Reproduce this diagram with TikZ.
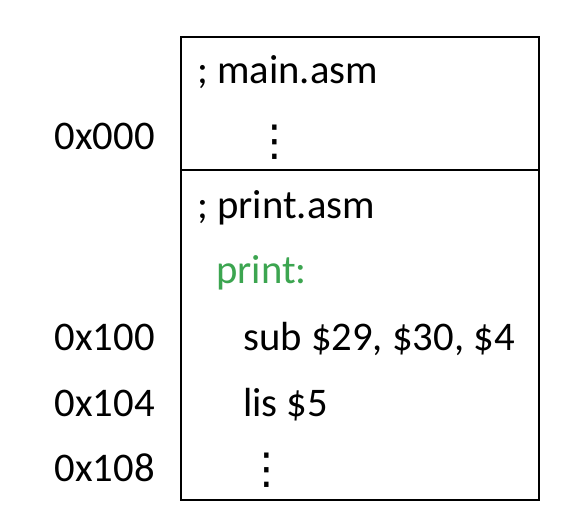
\documentclass[tikz,border=0pt]{standalone}
\usepackage{fontspec}
\setmainfont{Carlito}
\newfontfamily\dejavu{DejaVu Sans}
\definecolor{labelgreen}{RGB}{60,165,80}
\begin{document}
\begin{tikzpicture}[x=0.75pt,y=-0.75pt,
  txt/.style={anchor=base west,inner sep=0pt,font=\fontsize{30.5}{36}\selectfont},
  addr/.style={anchor=base east,inner sep=0pt,font=\fontsize{30.5}{36}\selectfont},
  vdot/.style={anchor=center,inner sep=0pt,font=\dejavu\fontsize{32}{36}\selectfont},
  frame/.style={draw=black,line width=1.2pt}]
\useasboundingbox (0,0) rectangle (574,520);
\node[frame,minimum width=358*0.75pt,minimum height=133*0.75pt,anchor=north west,inner sep=0pt] (top) at (180,36) {};
\node[frame,minimum width=358*0.75pt,minimum height=330*0.75pt,anchor=north west,inner sep=0pt] (bot) at (180,169) {};
\node[txt] (main) at (197,84) {; main.asm};
\node[vdot] (d1) at (275,142) {⋮};
\node[txt] (print) at (197,219) {; print.asm};
\node[txt,text=labelgreen] (lbl) at (216,283) {print:};
\node[txt] (sub) at (243,350) {sub \$29, \$30, \$4};
\node[txt] (lis) at (243,416) {lis \$5};
\node[vdot] (d2) at (267,470) {⋮};
\node[addr] (a0) at (155,150) {0x000};
\node[addr] (a1) at (155,350) {0x100};
\node[addr] (a2) at (155,416) {0x104};
\node[addr] (a3) at (155,481) {0x108};
\end{tikzpicture}
\end{document}
